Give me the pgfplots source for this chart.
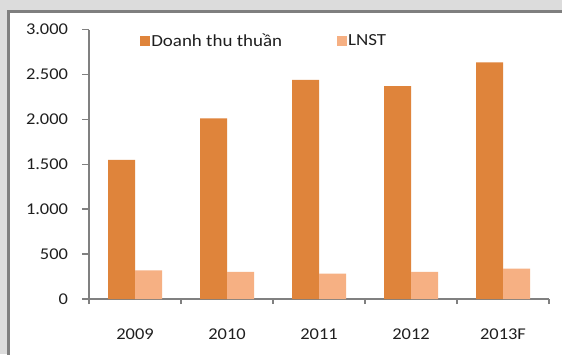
\documentclass[border=0pt]{standalone}
\usepackage{fontspec}
\setmainfont{Carlito}[FakeStretch=1.12]
\usepackage{pgfplots}
\pgfplotsset{compat=1.18}

\definecolor{doanhthu}{HTML}{DF843B}
\definecolor{lnst}{HTML}{F6B083}
\definecolor{axisgray}{HTML}{808080}
\definecolor{outerbg}{HTML}{DCDCDC}
\definecolor{framegray}{HTML}{7F7F7F}

\begin{document}
\begin{tikzpicture}[x=1bp,y=1bp]
  \useasboundingbox (0,0) rectangle (562,354);
  % outer panel and white chart area
  \fill[outerbg] (0,0) rectangle (562,354);
  \filldraw[fill=white, draw=framegray, line width=3bp] (8.5,-10) rectangle (600,342.5);

  \begin{axis}[
      at={(89bp,55bp)}, anchor=south west,
      scale only axis,
      width=460bp, height=269.5bp,
      xmin=-0.5, xmax=4.5,
      ymin=0, ymax=3000,
      axis x line*=bottom,
      axis y line*=left,
      axis line style={color=axisgray, line width=1.5bp},
      tick style={color=axisgray, line width=1.5bp},
      tick align=outside,
      major tick length=7bp,
      minor tick length=5bp,
      xtick={0,1,2,3,4},
      xticklabels={2009,2010,2011,2012,2013F},
      major x tick style={draw=none},
      minor xtick={-0.5,0.5,1.5,2.5,3.5,4.5},
      ytick={0,500,1000,1500,2000,2500,3000},
      /pgf/number format/assume math mode=true,
      /pgf/number format/.cd, 1000 sep={.}, /pgfplots/.cd,
      every tick label/.append style={font=\fontsize{16.5}{18}\selectfont, text=black!88},
      yticklabel style={xshift=-10.5bp},
      xticklabel style={yshift=-19bp},
      ybar=0pt,
      bar width=27bp,
      legend columns=2,
      legend style={
        at={(rel axis cs:0.111,0.957)}, anchor=west,
        draw=none, fill=none, inner sep=0pt,
        font=\fontsize{17}{19}\selectfont,
        text=black!88,
        /tikz/every even column/.append style={column sep=54bp},
        nodes={inner sep=1bp}
      },
      legend image code/.code={\fill[#1] (0bp,-5bp) rectangle (10bp,5bp);},
    ]
    \addplot[fill=doanhthu, draw=none] coordinates {
      (0,1550) (1,2010) (2,2440) (3,2370) (4,2635)
    };
    \addplot[fill=lnst, draw=none] coordinates {
      (0,320) (1,301) (2,282) (3,301) (4,339)
    };
    \legend{Doanh thu thuần, LNST}
  \end{axis}
\end{tikzpicture}
\end{document}
